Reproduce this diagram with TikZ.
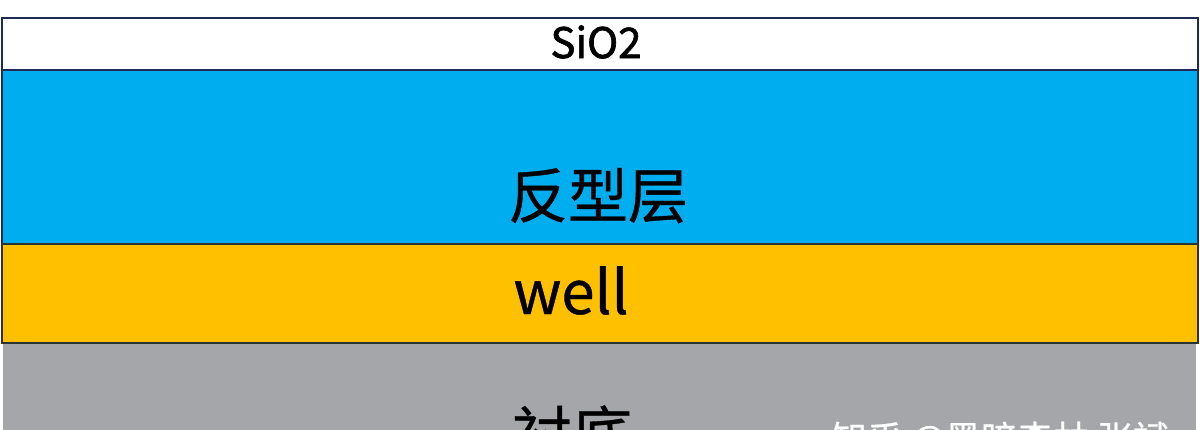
\documentclass[tikz,border=0pt]{standalone}
\usepackage{fontspec}
\usepackage{tikz}
\newfontfamily\cjk{Noto Sans CJK SC}[FakeBold=0.6]
\newfontfamily\cjkheavy{Noto Sans CJK SC}[FakeBold=1.6]
\definecolor{oxideedge}{HTML}{1F2A55}
\definecolor{invblue}{HTML}{00ADEF}
\definecolor{wellyellow}{HTML}{FFC000}
\definecolor{subgray}{HTML}{A5A6A9}
\definecolor{darkedge}{HTML}{2A3330}

\begin{document}
\begin{tikzpicture}[x=0.5pt, y=-0.5pt,
    layer/.style={line width=1.2pt},
    layer text/.style={anchor=base, inner sep=0pt, text=black},
    big text/.style={layer text, font=\cjk\fontsize{30}{30}\selectfont},
    small text/.style={layer text, font=\cjkheavy\fontsize{21}{21}\selectfont}]
    \useasboundingbox (0,0) rectangle (1200,429);
    \clip (0,0) rectangle (1200,429);
    \fill[white] (0,0) rectangle (1200,429);
    % layers from top to bottom
    \fill[subgray] (3,343) rectangle (1196,460);
    \draw[layer, draw=oxideedge, fill=white] (2,18) rectangle (1198,70);
    \draw[layer, draw=oxideedge, fill=invblue] (2,70) rectangle (1198,244);
    \draw[layer, draw=darkedge, fill=wellyellow] (2,244) rectangle (1198,343);
    % labels
    \node[small text] (oxide) at (596,58) {SiO2};
    \node[big text] (inversion) at (598,218) {反型层};
    \node[big text] (well) at (571,314) {well};
    \node[big text] (substrate) at (572,456) {衬底};
    \node[layer text, text=white, font=\cjk\fontsize{18}{18}\selectfont] (mark) at (1000,452) {知乎 @黑暗森林 张斌};
\end{tikzpicture}
\end{document}
